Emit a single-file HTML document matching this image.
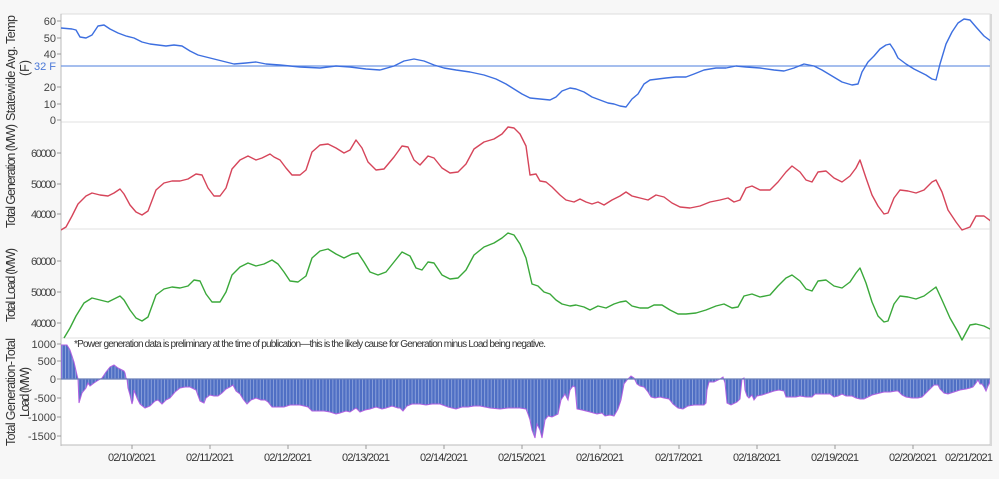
<!DOCTYPE html>
<html><head><meta charset="utf-8"><style>
html,body{margin:0;padding:0;background:#f7f7f7;}
svg{display:block;font-family:"Liberation Sans",sans-serif;}
</style></head><body>
<svg width="999" height="479" viewBox="0 0 999 479" xmlns="http://www.w3.org/2000/svg">
<defs>
<pattern id="st" width="3.3" height="10" patternUnits="userSpaceOnUse">
<rect width="3.3" height="10" fill="#4f6fc4"/><rect x="2.4" width="0.9" height="10" fill="#8ea4dc"/>
</pattern>
<clipPath id="pc"><rect x="61" y="14" width="929" height="431"/></clipPath>
</defs>
<rect x="61" y="14" width="929" height="431" fill="#fff" stroke="#ddd"/>
<line x1="991" y1="14" x2="991" y2="446" stroke="#d8d8d8" stroke-width="2"/>
<g stroke="#e2e2e2"><line x1="61" y1="122" x2="990" y2="122"/><line x1="61" y1="229" x2="990" y2="229"/><line x1="61" y1="338" x2="990" y2="338"/></g>
<line x1="61" y1="14" x2="61" y2="446" stroke="#bbb"/>
<line x1="61" y1="445" x2="990" y2="445" stroke="#bbb"/>
<g font-size="11" fill="#444" text-anchor="end">
<text x="56" y="25">60</text><text x="56" y="42">50</text><text x="56" y="58">40</text>
<text x="56" y="91">20</text><text x="56" y="108">10</text><text x="56" y="124">0</text>
<text x="56" y="70" fill="#4a78d8">32 F</text>
<text x="56" y="157" textLength="25">60000</text><text x="56" y="188" textLength="25">50000</text><text x="56" y="218" textLength="25">40000</text>
<text x="56" y="265" textLength="25">60000</text><text x="56" y="296" textLength="25">50000</text><text x="56" y="327" textLength="25">40000</text>
<text x="56" y="348">1000</text><text x="56" y="365">500</text><text x="56" y="383">0</text>
<text x="56" y="402">-500</text><text x="56" y="421">-1000</text><text x="56" y="440">-1500</text>
</g>
<g stroke="#999">
<line x1="57" y1="21" x2="61" y2="21"/><line x1="57" y1="38" x2="61" y2="38"/><line x1="57" y1="54" x2="61" y2="54"/><line x1="57" y1="87" x2="61" y2="87"/><line x1="57" y1="104" x2="61" y2="104"/><line x1="57" y1="120" x2="61" y2="120"/>
<line x1="57" y1="153" x2="61" y2="153"/><line x1="57" y1="184" x2="61" y2="184"/><line x1="57" y1="214" x2="61" y2="214"/>
<line x1="57" y1="261" x2="61" y2="261"/><line x1="57" y1="292" x2="61" y2="292"/><line x1="57" y1="323" x2="61" y2="323"/>
<line x1="57" y1="344" x2="61" y2="344"/><line x1="57" y1="361" x2="61" y2="361"/><line x1="57" y1="379" x2="61" y2="379"/><line x1="57" y1="398" x2="61" y2="398"/><line x1="57" y1="417" x2="61" y2="417"/><line x1="57" y1="436" x2="61" y2="436"/>
</g>
<g font-size="12.5" fill="#333" text-anchor="middle">
<text transform="translate(15,68) rotate(-90)" textLength="106">Statewide Avg. Temp</text>
<text transform="translate(29,68) rotate(-90)">(F)</text>
<text transform="translate(15,176) rotate(-90)" textLength="104">Total Generation (MW)</text>
<text transform="translate(15,285) rotate(-90)" textLength="74">Total Load (MW)</text>
<text transform="translate(15,392) rotate(-90)" textLength="108">Total Generation-Total</text>
<text transform="translate(29,392) rotate(-90)" textLength="50">Load (MW)</text>
</g>
<g font-size="11" fill="#333" text-anchor="middle">
<text x="132" y="461" textLength="48">02/10/2021</text><text x="210" y="461" textLength="48">02/11/2021</text><text x="288" y="461" textLength="48">02/12/2021</text><text x="366" y="461" textLength="48">02/13/2021</text><text x="444" y="461" textLength="48">02/14/2021</text><text x="522" y="461" textLength="48">02/15/2021</text><text x="600" y="461" textLength="48">02/16/2021</text><text x="679" y="461" textLength="48">02/17/2021</text><text x="757" y="461" textLength="48">02/18/2021</text><text x="835" y="461" textLength="48">02/19/2021</text><text x="913" y="461" textLength="48">02/20/2021</text><text x="969" y="461" textLength="48">02/21/2021</text>
</g>
<g stroke="#999"><line x1="132" y1="445" x2="132" y2="449"/><line x1="210" y1="445" x2="210" y2="449"/><line x1="288" y1="445" x2="288" y2="449"/><line x1="366" y1="445" x2="366" y2="449"/><line x1="444" y1="445" x2="444" y2="449"/><line x1="522" y1="445" x2="522" y2="449"/><line x1="600" y1="445" x2="600" y2="449"/><line x1="679" y1="445" x2="679" y2="449"/><line x1="757" y1="445" x2="757" y2="449"/><line x1="835" y1="445" x2="835" y2="449"/><line x1="913" y1="445" x2="913" y2="449"/></g>
<g clip-path="url(#pc)" fill="none" stroke-width="1.4" stroke-linejoin="round">
<line x1="61" y1="66" x2="990" y2="66" stroke="#6f96e4" stroke-width="1.2"/>
<polyline stroke="#3d6fe0" points="61,28 72,29 76,30 80,37 86,38 92,35 98,26 104,25 110,29 118,33 126,36 134,38 142,42 150,44 158,45 166,46 174,45 182,46 190,51 198,55 210,58 222,61 234,64 246,63 256,62 266,64 280,65 300,67 320,68 336,66 350,67 366,69 380,70 394,66 404,61 414,59 424,61 434,65 444,68 456,70 470,72 484,75 496,79 506,84 514,89 522,94 530,98 540,99 550,100 556,97 562,91 570,88 576,89 584,92 592,97 600,100 608,103 614,104 620,106 626,107 632,99 638,94 644,84 650,80 658,79 666,78 676,77 686,77 694,74 704,70 716,68 726,68 736,66 746,67 760,68 774,70 784,71 794,68 804,64 814,66 822,70 832,76 842,82 852,85 858,84 862,72 868,62 874,56 880,49 886,45 890,44 894,50 898,58 906,64 914,69 920,72 926,75 932,79 936,80 940,64 946,44 952,32 958,23 964,19 970,20 976,27 984,36 992,42"/>
<polyline stroke="#d6455a" points="61,230 66,227 72,216 78,204 86,196 92,193 100,195 108,196 114,193 120,189 124,194 130,205 136,212 142,215 148,211 156,190 164,183 172,181 180,181 188,179 196,174 202,175 208,188 214,196 220,196 226,188 232,169 240,160 248,156 256,160 262,158 270,154 274,157 280,160 286,168 292,175 300,175 306,170 312,152 320,145 328,144 336,148 344,153 350,150 356,140 362,148 368,162 376,170 384,169 394,157 402,146 408,147 414,160 420,165 428,156 434,158 442,168 450,173 458,172 466,164 474,149 484,142 494,139 502,134 508,127 514,128 520,134 526,146 530,175 536,174 540,181 546,182 552,187 560,195 566,200 574,202 580,199 586,202 592,204 598,202 604,205 612,200 620,196 626,192 632,196 640,198 648,200 656,195 664,197 672,203 680,207 690,208 700,206 710,202 720,200 728,198 734,202 740,200 746,188 752,186 760,190 770,190 778,182 786,172 792,166 800,172 806,180 812,182 818,172 826,171 834,178 842,182 850,176 856,168 860,160 866,178 872,195 878,206 884,214 888,213 894,198 900,190 908,191 916,193 924,190 932,182 936,180 942,192 948,210 956,222 962,230 970,227 976,216 984,216 992,222"/>
<polyline stroke="#3aa83a" points="64,338 70,328 76,316 84,303 92,298 100,300 108,302 114,299 120,296 124,300 130,310 136,318 142,321 148,317 156,295 164,289 172,287 180,288 188,286 194,280 200,281 206,294 212,302 220,302 226,292 232,275 240,267 248,263 256,266 264,264 272,260 278,264 284,272 290,281 298,282 306,276 312,258 320,251 328,249 336,254 344,258 352,254 358,253 364,262 370,272 378,275 386,272 394,262 402,252 410,256 416,268 422,270 428,262 434,263 442,275 450,279 458,278 466,270 474,255 484,247 494,243 502,238 508,233 514,235 520,244 526,258 532,284 538,286 544,292 550,294 556,300 562,304 570,306 576,305 584,307 590,310 598,306 606,308 614,304 620,302 626,301 632,306 640,308 648,308 654,305 662,305 670,310 678,314 686,314 696,313 706,310 716,306 724,304 732,308 738,307 744,296 752,294 760,297 770,295 778,286 786,278 792,275 800,281 806,289 812,291 818,281 826,280 834,286 842,288 850,282 856,273 860,268 866,283 872,302 878,316 884,322 888,321 894,304 900,296 908,297 916,299 924,296 932,290 936,287 942,300 950,318 958,332 962,340 970,325 976,324 984,326 992,330"/>
</g>
<g clip-path="url(#pc)">
<polygon fill="url(#st)" points="61,379 61,345 67,345 70,350 74,362 77,375 78,379 79,403 82,393 86,388 88,383 90,386 94,383 97,381 102,378 106,372 110,367 114,365 118,368 122,370 124,371 125,373 126,378 127,379 128,388 130,395 132,404 133,400 134,390 137,398 140,404 145,408 150,406 155,401 158,400 162,404 166,400 170,398 175,392 180,388 185,387 190,387 196,390 200,401 204,403 206,398 210,395 214,396 218,396 222,393 226,389 230,387 233,385 236,391 240,394 243,399 247,404 251,400 256,398 261,400 265,400 268,402 272,407 278,407 284,407 290,405 300,405 308,407 312,411 318,411 324,411 330,412 336,414 340,413 346,411 350,412 356,408 360,412 365,410 370,409 376,407 382,409 386,408 392,406 398,408 400,408 403,411 407,406 412,404 420,404 426,405 432,404 440,404 448,407 456,409 462,407 468,407 474,406 480,406 490,408 500,409 508,408 514,408 520,408 526,409 528,414 530,420 532,430 535,438 537,424 540,430 542,438 545,420 548,416 552,417 558,414 561,400 565,394 568,400 570,390 573,386 575,387 577,409 582,410 590,412 597,414 602,413 605,416 610,415 614,416 618,409 621,400 624,384 627,380 631,376 634,378 637,384 640,386 644,387 648,392 651,397 655,398 660,397 664,398 669,399 673,404 678,408 683,409 688,406 694,405 700,405 704,405 706,403 707,390 709,382 714,382 718,380 720,379 723,377 725,383 727,403 731,405 737,402 740,399 742,379 744,378 745,390 747,396 749,398 752,395 754,400 757,396 762,395 768,393 774,391 779,390 784,391 786,397 790,397 796,397 800,396 806,397 810,397 812,397 815,394 820,394 826,394 830,394 834,397 838,396 842,394 846,396 852,396 856,398 860,399 864,399 868,397 872,395 876,394 880,393 884,392 890,392 896,391 898,391 902,395 906,397 912,398 918,398 922,397 926,393 930,389 934,385 938,385 940,389 944,393 948,394 954,392 960,390 966,389 970,388 973,387 976,383 978,380 980,384 982,384 984,387 986,391 988,386 990,382 990,379" stroke="#b060e0" stroke-width="1"/>
<line x1="61" y1="379" x2="990" y2="379" stroke="#6a7fb8" stroke-width="1.2"/>
</g>
<text x="74" y="347" font-size="10" fill="#333" textLength="472">*Power generation data is preliminary at the time of publication—this is the likely cause for Generation minus Load being negative.</text>
</svg>
</body></html>
